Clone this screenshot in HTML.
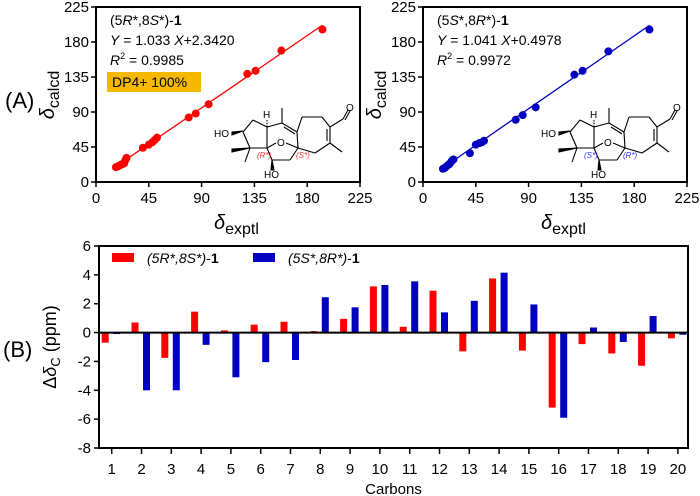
<!DOCTYPE html>
<html><head><meta charset="utf-8">
<style>
html,body{margin:0;padding:0;background:#fff;}
svg{display:block;font-family:"Liberation Sans",Arial,sans-serif;}
</style></head>
<body>
<svg id="fig" width="700" height="496" viewBox="0 0 700 496">
<text x="5" y="108" font-size="22">(A)</text>
<text x="3" y="357" font-size="22">(B)</text>
<g id="sc1"></g>
<g id="sc2"></g>
<g id="bars"></g>
</svg>
<script>
// ---- scatter data ----
const exptl = [17,18.5,20,21.5,22.5,24,25,26,40,45,48,50,52,79,85,96,129,136,158,193];
const calcdA = [19,20,21,22.5,23,24,28,31,44,48,51,54,57,83,88,100,139,143,169,196];
const calcdB = [17,18,20,22,23,26,28,29,37,48,50,51,53,80,86,96,138,143,168,196];
const scatterTicks = [0,45,90,135,180,225];
// ---- bar data ----
const carbons = [1,2,3,4,5,6,7,8,9,10,11,12,13,14,15,16,17,18,19,20];
const deltaA = [-0.7,0.7,-1.75,1.45,0.15,0.55,0.75,0.1,0.95,3.2,0.4,2.9,-1.3,3.75,-1.25,-5.2,-0.8,-1.45,-2.3,-0.4];
const deltaB = [-0.1,-4.0,-4.0,-0.85,-3.1,-2.05,-1.9,2.45,1.75,3.3,3.55,1.4,2.2,4.15,1.95,-5.9,0.35,-0.65,1.15,-0.15];
const barTicks = [6,4,2,0,-2,-4,-6,-8];

const NS="http://www.w3.org/2000/svg";
function mk(parent,tag,attrs,text){const e=document.createElementNS(NS,tag);for(const k in attrs)e.setAttribute(k,attrs[k]);if(text!==undefined)e.textContent=text;parent.appendChild(e);return e;}

function molecule(g,dx,col,l1,l2){
  const m=mk(g,'g',{transform:'translate('+dx+',0)',stroke:'#000','stroke-width':'1.1',fill:'none'});
  
  
  const L=[[243,132,253,120],[253,120,267,127],[267,127,282,123],[282,123,282,108],[282,123,297,132],[284,127,295,134],
  [297,132,302,117],[302,117,322,117],[322,117,330,127],[330,127,330,143],[327,129,327,141],[330,127,343,119],[343,119,348,110],[345,120,350,111],
  [243,132,250,148],[250,148,267,148],[250,148,245,162],[267,148,267,127],[267,148,276,143],[286,143,298,148],
  [267,148,272,160],[272,160,290,160],[290,160,298,148],[298,148,297,132],[298,148,315,153],[315,153,330,143],[330,143,342,152]];
  L.forEach(a=>mk(m,'line',{x1:a[0],y1:a[1],x2:a[2],y2:a[3]}));
  mk(m,'polygon',{points:'243,131 232,132 232,135',fill:'#000'});
  mk(m,'polygon',{points:'250,148 232,149 232,152',fill:'#000'});
  mk(m,'polygon',{points:'272,160 271,170 274,170',fill:'#000'});
  mk(m,'line',{x1:267,y1:127,x2:267,y2:119,'stroke-dasharray':'1.5,1.2'});
  const t=mk(g,'g',{transform:'translate('+dx+',0)','font-size':'10',fill:'#000'});
  mk(t,'text',{x:214,y:137},'HO');mk(t,'text',{x:263,y:118},'H');
  mk(t,'text',{x:277,y:146},'O');mk(t,'text',{x:264,y:178},'HO');mk(t,'text',{x:346,y:111},'O');
  mk(t,'text',{x:257,y:158,'font-size':'8','font-style':'italic',fill:col},l1);
  mk(t,'text',{x:296,y:158,'font-size':'8','font-style':'italic',fill:col},l2);
}

function scatter(id,x0,calcd,color,lines,slope,icpt,dp4,molCol,l1,l2){
  const g=document.getElementById(id);
  const x1=x0+264,y0=182,y1=7;
  const sx=v=>x0+(v/225)*(x1-x0), sy=v=>y0-(v/225)*(y0-y1);
  mk(g,'rect',{x:x0,y:y1,width:x1-x0,height:y0-y1,fill:'none',stroke:'#000','stroke-width':2});
  scatterTicks.forEach(t=>{
    mk(g,'line',{x1:x0-5,x2:x0,y1:sy(t),y2:sy(t),stroke:'#000','stroke-width':1.5});
    mk(g,'text',{x:x0-7,y:sy(t)+5,'font-size':'15','text-anchor':'end'},t);
    mk(g,'line',{x1:sx(t),x2:sx(t),y1:y0,y2:y0+5,stroke:'#000','stroke-width':1.5});
    mk(g,'text',{x:sx(t),y:y0+21,'font-size':'15','text-anchor':'middle'},t);
  });
  const xt=mk(g,'text',{x:(x0+x1)/2-14,y:229,'font-size':'20'});
  xt.innerHTML='<tspan font-style="italic">δ</tspan><tspan font-size="16" dy="5">exptl</tspan>';
  
  const yt=mk(g,'text',{transform:'translate('+(x0-42)+',95) rotate(-90)','font-size':'20','text-anchor':'middle'});
  yt.innerHTML='<tspan font-style="italic">δ</tspan><tspan font-size="16" dy="5">calcd</tspan>';
  
  const xa=exptl[0], xb=exptl[exptl.length-1];
  const fl=mk(g,'line',{x1:sx(xa),y1:sy(slope*xa+icpt),x2:sx(xb),y2:sy(slope*xb+icpt),stroke:color,'stroke-width':1.3});
  
  exptl.forEach((v,i)=>{
    const c=mk(g,'circle',{cx:sx(v),cy:sy(calcd[i]),r:4,fill:color});
    
    
  });
  if(dp4){
    mk(g,'rect',{x:x0+11,y:72,width:94,height:20,fill:'#f5b800'});
    mk(g,'text',{x:x0+16,y:87,'font-size':'14'},'DP4+ 100%');
  }
  const t=mk(g,'g',{'font-size':'14'});
  t.innerHTML=lines;
  molecule(g,x0-96,molCol,l1,l2);
}
scatter('sc1',96,calcdA,'#ff0000',
 '<text x="110" y="25">(5<tspan font-style="italic">R</tspan>*,8<tspan font-style="italic">S</tspan>*)-<tspan font-weight="bold">1</tspan></text><text x="110" y="45"><tspan font-style="italic">Y</tspan> = 1.033 <tspan font-style="italic">X</tspan>+2.3420</text><text x="110" y="65"><tspan font-style="italic">R</tspan><tspan font-size="9" dy="-6">2</tspan><tspan dy="6"> = 0.9985</tspan></text>',
 1.033,2.342,true,'#ff3030','(R*)','(S*)');
scatter('sc2',423,calcdB,'#0000c0',
 '<text x="437" y="25">(5<tspan font-style="italic">S</tspan>*,8<tspan font-style="italic">R</tspan>*)-<tspan font-weight="bold">1</tspan></text><text x="437" y="45"><tspan font-style="italic">Y</tspan> = 1.041 <tspan font-style="italic">X</tspan>+0.4978</text><text x="437" y="65"><tspan font-style="italic">R</tspan><tspan font-size="9" dy="-6">2</tspan><tspan dy="6"> = 0.9972</tspan></text>',
 1.041,0.4978,false,'#3030ff','(S*)','(R*)');

// ---- bar chart ----
(function(){
  const g=document.getElementById('bars');
  const x0=99,x1=688,yTop=246,yBot=448;
  const sy=v=>yBot-(v+8)/14*(yBot-yTop);
  const cx=i=>111.7+(i-1)*29.8;
  mk(g,'rect',{x:x0,y:yTop,width:x1-x0,height:yBot-yTop,fill:'none',stroke:'#000','stroke-width':2});
  barTicks.forEach(t=>{
    mk(g,'line',{x1:x0-5,x2:x0,y1:sy(t),y2:sy(t),stroke:'#000','stroke-width':1.5});
    mk(g,'text',{x:x0-8,y:sy(t)+5,'font-size':'15','text-anchor':'end'},t);
  });
  carbons.forEach((c,i)=>{
    const ra=deltaA[i], rb=deltaB[i];
    const a=mk(g,'rect',{x:cx(c)-10,y:Math.min(sy(ra),sy(0)),width:7,height:Math.abs(sy(ra)-sy(0)),fill:'#ff0000'});
    
    
    const b=mk(g,'rect',{x:cx(c)+1.5,y:Math.min(sy(rb),sy(0)),width:7,height:Math.abs(sy(rb)-sy(0)),fill:'#0000c0'});
    
    
    mk(g,'line',{x1:cx(c),x2:cx(c),y1:yBot,y2:yBot+6,stroke:'#000','stroke-width':1.5});
    mk(g,'text',{x:cx(c),y:474,'font-size':'15','text-anchor':'middle'},c);
  });
  mk(g,'line',{x1:x0,x2:x1,y1:sy(0),y2:sy(0),stroke:'#000','stroke-width':2});
  mk(g,'text',{x:(x0+x1)/2,y:494,'font-size':'15','text-anchor':'middle'},'Carbons');
  const yt=mk(g,'text',{transform:'translate(56,347) rotate(-90)','font-size':'18','text-anchor':'middle'});
  yt.innerHTML='Δ<tspan font-style="italic">δ</tspan><tspan font-size="13" dy="4">C</tspan><tspan dy="-4"> (ppm)</tspan>';
  
  const lg=mk(g,'g',{'font-size':'14'});
  
  
  mk(lg,'rect',{x:112,y:253,width:22,height:9,fill:'#ff0000'});
  const t1=mk(lg,'text',{x:147,y:263});
  t1.innerHTML='<tspan font-style="italic">(5R*,8S*)</tspan>-<tspan font-weight="bold">1</tspan>';
  mk(lg,'rect',{x:253,y:253,width:22,height:9,fill:'#0000c0'});
  const t2=mk(lg,'text',{x:288,y:263});
  t2.innerHTML='<tspan font-style="italic">(5S*,8R*)</tspan>-<tspan font-weight="bold">1</tspan>';
})();
</script>
</body></html>
